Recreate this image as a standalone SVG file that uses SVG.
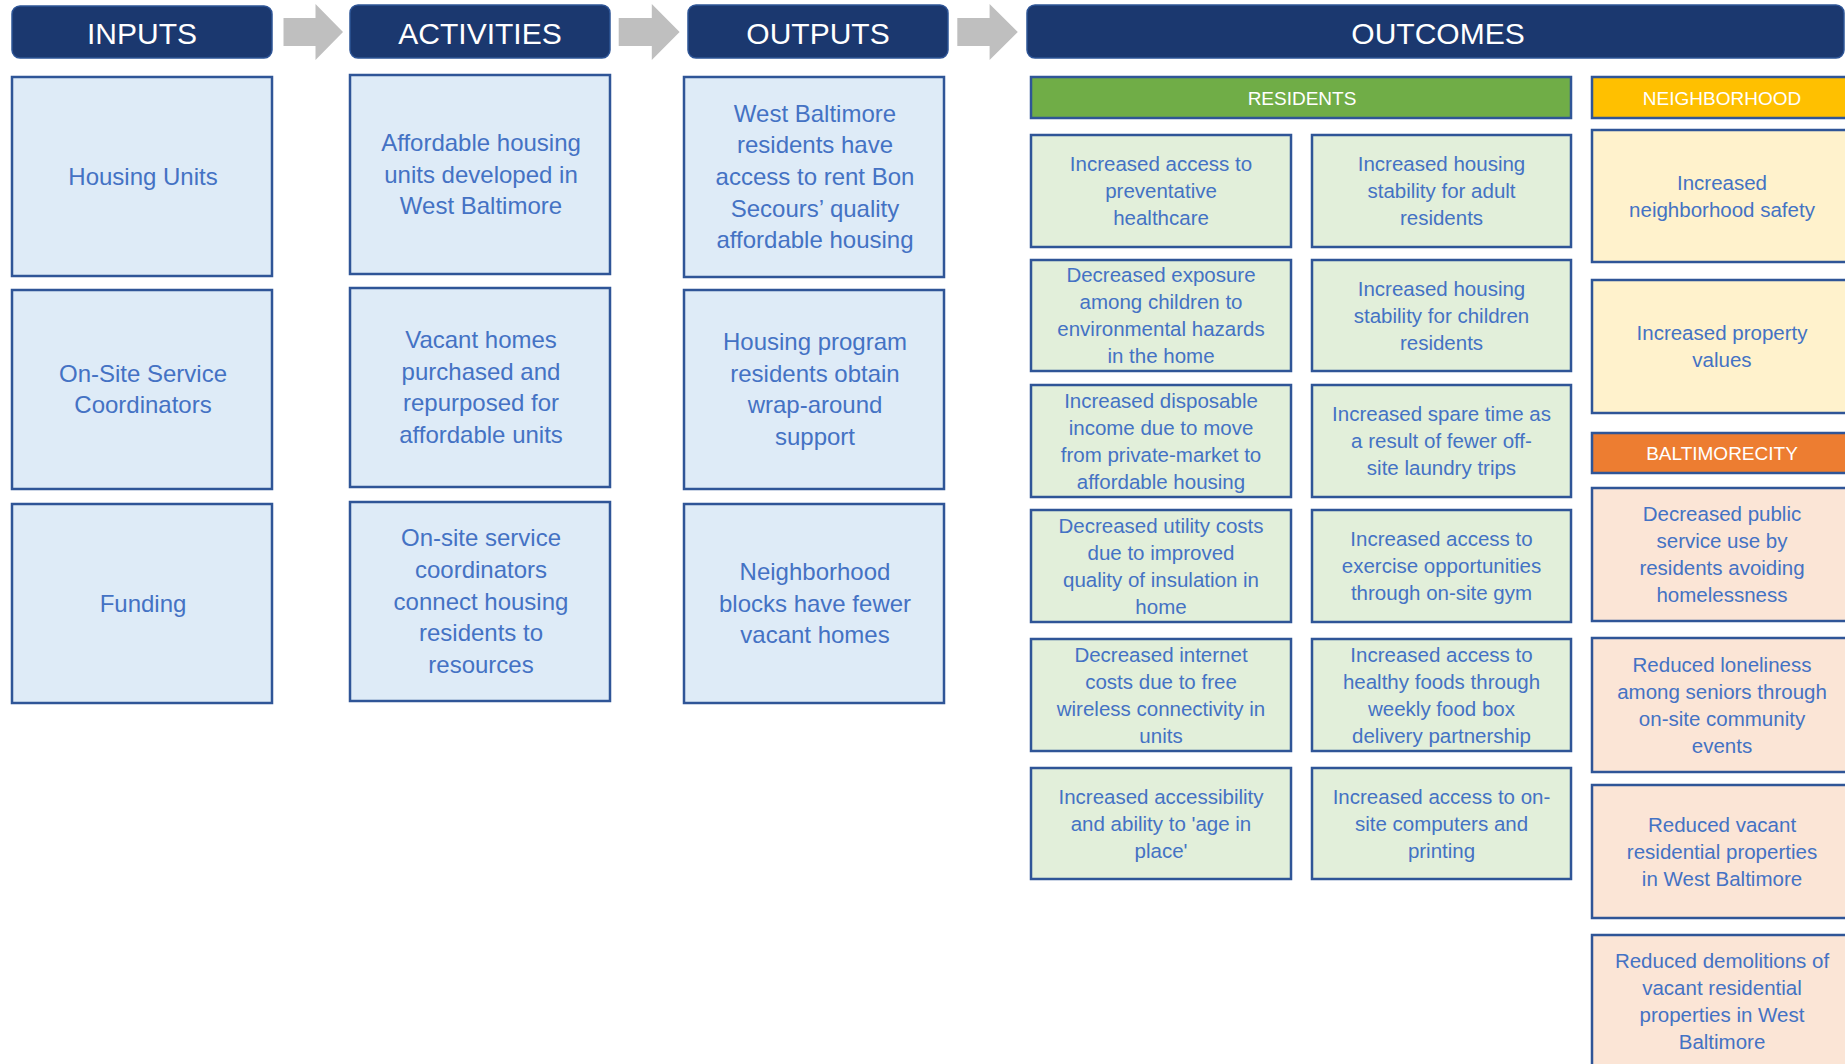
<svg xmlns="http://www.w3.org/2000/svg" width="1845" height="1064" viewBox="0 0 1845 1064">
  <style>
    .hdr { fill: #1B386F; stroke: #2E5597; stroke-width: 1.5; }
    .hdr-t { font-family: "Liberation Sans", Arial, sans-serif; font-size: 30px; fill: #FFFFFF; text-anchor: middle; }
    .box { fill: #DEEBF7; stroke: #2F5597; stroke-width: 2.5; }
    .gbox { fill: #E2EFDA; stroke: #2F5597; stroke-width: 2.5; }
    .ybox { fill: #FFF2CC; stroke: #2F5597; stroke-width: 2.5; }
    .pbox { fill: #FBE5D6; stroke: #2F5597; stroke-width: 2.5; }
    .sub-g { fill: #70AD47; stroke: #2F5597; stroke-width: 2.5; }
    .sub-y { fill: #FFC000; stroke: #2F5597; stroke-width: 2.5; }
    .sub-o { fill: #ED7D31; stroke: #2F5597; stroke-width: 2.5; }
    .sub-t { font-family: "Liberation Sans", Arial, sans-serif; font-size: 19px; fill: #FFFFFF; text-anchor: middle; }
    .t { font-family: "Liberation Sans", Arial, sans-serif; font-size: 24px; fill: #4472C4; text-anchor: middle; }
    .s { font-family: "Liberation Sans", Arial, sans-serif; font-size: 20.5px; fill: #4472C4; text-anchor: middle; }
    .arrow { fill: #BFBFBF; }
  </style>

  <rect width="1845" height="1064" fill="#FFFFFF"/>

  <!-- flow arrows between the column headers -->
  <g id="connectors">
    <polygon class="arrow" points="283.5,18 315.5,18 315.5,4 343,32 315.5,60 315.5,46 283.5,46"/>
    <polygon class="arrow" points="618.7,18 651.8,18 651.8,4 679.6,32 651.8,60 651.8,46 618.7,46"/>
    <polygon class="arrow" points="957.3,18 989.6,18 989.6,4 1017.8,32 989.6,60 989.6,46 957.3,46"/>
  </g>

  <!-- column headers -->
  <g id="hdr-inputs">
    <rect class="hdr" x="12" y="6" width="260" height="52" rx="8"/>
    <text class="hdr-t" x="142" y="44">INPUTS</text>
  </g>
  <g id="hdr-activities">
    <rect class="hdr" x="350" y="5" width="260" height="53" rx="8"/>
    <text class="hdr-t" x="480" y="44">ACTIVITIES</text>
  </g>
  <g id="hdr-outputs">
    <rect class="hdr" x="688" y="5" width="260" height="53" rx="8"/>
    <text class="hdr-t" x="818" y="44">OUTPUTS</text>
  </g>
  <g id="hdr-outcomes">
    <rect class="hdr" x="1027" y="5" width="817" height="53" rx="8"/>
    <text class="hdr-t" x="1438" y="44">OUTCOMES</text>
  </g>

  <!-- inputs -->
  <g id="in-housing-units">
    <rect class="box" x="12" y="77" width="260" height="199"/>
    <text class="t" x="143" y="184.5">Housing Units</text>
  </g>
  <g id="in-coordinators">
    <rect class="box" x="12" y="290" width="260" height="199"/>
    <text class="t" x="143" y="381.7">On-Site Service</text>
    <text class="t" x="143" y="413.3">Coordinators</text>
  </g>
  <g id="in-funding">
    <rect class="box" x="12" y="504" width="260" height="199"/>
    <text class="t" x="143" y="611.5">Funding</text>
  </g>

  <!-- activities -->
  <g id="act-affordable">
    <rect class="box" x="350" y="75" width="260" height="199"/>
    <text class="t" x="481" y="150.8">Affordable housing</text>
    <text class="t" x="481" y="182.5">units developed in</text>
    <text class="t" x="481" y="214.2">West Baltimore</text>
  </g>
  <g id="act-vacant">
    <rect class="box" x="350" y="288" width="260" height="199"/>
    <text class="t" x="481" y="348">Vacant homes</text>
    <text class="t" x="481" y="379.7">purchased and</text>
    <text class="t" x="481" y="411.4">repurposed for</text>
    <text class="t" x="481" y="443.1">affordable units</text>
  </g>
  <g id="act-coordinators">
    <rect class="box" x="350" y="502" width="260" height="199"/>
    <text class="t" x="481" y="546.1">On-site service</text>
    <text class="t" x="481" y="577.8">coordinators</text>
    <text class="t" x="481" y="609.5">connect housing</text>
    <text class="t" x="481" y="641.2">residents to</text>
    <text class="t" x="481" y="672.9">resources</text>
  </g>

  <!-- outputs -->
  <g id="out-access">
    <rect class="box" x="684" y="77" width="260" height="200"/>
    <text class="t" x="815" y="121.6">West Baltimore</text>
    <text class="t" x="815" y="153.3">residents have</text>
    <text class="t" x="815" y="185">access to rent Bon</text>
    <text class="t" x="815" y="216.7">Secours’ quality</text>
    <text class="t" x="815" y="248.4">affordable housing</text>
  </g>
  <g id="out-support">
    <rect class="box" x="684" y="290" width="260" height="199"/>
    <text class="t" x="815" y="350">Housing program</text>
    <text class="t" x="815" y="381.7">residents obtain</text>
    <text class="t" x="815" y="413.4">wrap-around</text>
    <text class="t" x="815" y="445.1">support</text>
  </g>
  <g id="out-blocks">
    <rect class="box" x="684" y="504" width="260" height="199"/>
    <text class="t" x="815" y="579.8">Neighborhood</text>
    <text class="t" x="815" y="611.5">blocks have fewer</text>
    <text class="t" x="815" y="643.2">vacant homes</text>
  </g>

  <!-- outcomes: residents -->
  <g id="sub-residents">
    <rect class="sub-g" x="1031" y="77" width="540" height="41"/>
    <text class="sub-t" x="1302" y="105">RESIDENTS</text>
  </g>
  <g id="res-healthcare">
    <rect class="gbox" x="1031" y="135" width="260" height="112"/>
    <text class="s" x="1161" y="171">Increased access to</text>
    <text class="s" x="1161" y="198">preventative</text>
    <text class="s" x="1161" y="225">healthcare</text>
  </g>
  <g id="res-adult-stability">
    <rect class="gbox" x="1312" y="135" width="259" height="112"/>
    <text class="s" x="1441.5" y="171">Increased housing</text>
    <text class="s" x="1441.5" y="198">stability for adult</text>
    <text class="s" x="1441.5" y="225">residents</text>
  </g>
  <g id="res-hazards">
    <rect class="gbox" x="1031" y="260" width="260" height="111"/>
    <text class="s" x="1161" y="282">Decreased exposure</text>
    <text class="s" x="1161" y="309">among children to</text>
    <text class="s" x="1161" y="336">environmental hazards</text>
    <text class="s" x="1161" y="363">in the home</text>
  </g>
  <g id="res-child-stability">
    <rect class="gbox" x="1312" y="260" width="259" height="111"/>
    <text class="s" x="1441.5" y="295.5">Increased housing</text>
    <text class="s" x="1441.5" y="322.5">stability for children</text>
    <text class="s" x="1441.5" y="349.5">residents</text>
  </g>
  <g id="res-income">
    <rect class="gbox" x="1031" y="385" width="260" height="112"/>
    <text class="s" x="1161" y="407.5">Increased disposable</text>
    <text class="s" x="1161" y="434.5">income due to move</text>
    <text class="s" x="1161" y="461.5">from private-market to</text>
    <text class="s" x="1161" y="488.5">affordable housing</text>
  </g>
  <g id="res-spare-time">
    <rect class="gbox" x="1312" y="385" width="259" height="112"/>
    <text class="s" x="1441.5" y="421">Increased spare time as</text>
    <text class="s" x="1441.5" y="448">a result of fewer off-</text>
    <text class="s" x="1441.5" y="475">site laundry trips</text>
  </g>
  <g id="res-utility">
    <rect class="gbox" x="1031" y="510" width="260" height="112"/>
    <text class="s" x="1161" y="532.5">Decreased utility costs</text>
    <text class="s" x="1161" y="559.5">due to improved</text>
    <text class="s" x="1161" y="586.5">quality of insulation in</text>
    <text class="s" x="1161" y="613.5">home</text>
  </g>
  <g id="res-exercise">
    <rect class="gbox" x="1312" y="510" width="259" height="112"/>
    <text class="s" x="1441.5" y="546">Increased access to</text>
    <text class="s" x="1441.5" y="573">exercise opportunities</text>
    <text class="s" x="1441.5" y="600">through on-site gym</text>
  </g>
  <g id="res-internet">
    <rect class="gbox" x="1031" y="639" width="260" height="112"/>
    <text class="s" x="1161" y="661.5">Decreased internet</text>
    <text class="s" x="1161" y="688.5">costs due to free</text>
    <text class="s" x="1161" y="715.5">wireless connectivity in</text>
    <text class="s" x="1161" y="742.5">units</text>
  </g>
  <g id="res-foods">
    <rect class="gbox" x="1312" y="639" width="259" height="112"/>
    <text class="s" x="1441.5" y="661.5">Increased access to</text>
    <text class="s" x="1441.5" y="688.5">healthy foods through</text>
    <text class="s" x="1441.5" y="715.5">weekly food box</text>
    <text class="s" x="1441.5" y="742.5">delivery partnership</text>
  </g>
  <g id="res-age-in-place">
    <rect class="gbox" x="1031" y="768" width="260" height="111"/>
    <text class="s" x="1161" y="803.5">Increased accessibility</text>
    <text class="s" x="1161" y="830.5">and ability to 'age in</text>
    <text class="s" x="1161" y="857.5">place'</text>
  </g>
  <g id="res-computers">
    <rect class="gbox" x="1312" y="768" width="259" height="111"/>
    <text class="s" x="1441.5" y="803.5">Increased access to on-</text>
    <text class="s" x="1441.5" y="830.5">site computers and</text>
    <text class="s" x="1441.5" y="857.5">printing</text>
  </g>

  <!-- outcomes: neighborhood -->
  <g id="sub-neighborhood">
    <rect class="sub-y" x="1592" y="77" width="260" height="41"/>
    <text class="sub-t" x="1722" y="105">NEIGHBORHOOD</text>
  </g>
  <g id="nb-safety">
    <rect class="ybox" x="1592" y="130" width="260" height="132"/>
    <text class="s" x="1722" y="189.5">Increased</text>
    <text class="s" x="1722" y="216.5">neighborhood safety</text>
  </g>
  <g id="nb-property">
    <rect class="ybox" x="1592" y="280" width="260" height="133"/>
    <text class="s" x="1722" y="340">Increased property</text>
    <text class="s" x="1722" y="367">values</text>
  </g>

  <!-- outcomes: Baltimore City -->
  <g id="sub-city">
    <rect class="sub-o" x="1592" y="433" width="260" height="40"/>
    <text class="sub-t" x="1722" y="460">BALTIMORECITY</text>
  </g>
  <g id="city-public-service">
    <rect class="pbox" x="1592" y="488" width="260" height="133"/>
    <text class="s" x="1722" y="521">Decreased public</text>
    <text class="s" x="1722" y="548">service use by</text>
    <text class="s" x="1722" y="575">residents avoiding</text>
    <text class="s" x="1722" y="602">homelessness</text>
  </g>
  <g id="city-loneliness">
    <rect class="pbox" x="1592" y="638" width="260" height="134"/>
    <text class="s" x="1722" y="671.5">Reduced loneliness</text>
    <text class="s" x="1722" y="698.5">among seniors through</text>
    <text class="s" x="1722" y="725.5">on-site community</text>
    <text class="s" x="1722" y="752.5">events</text>
  </g>
  <g id="city-vacant">
    <rect class="pbox" x="1592" y="785" width="260" height="133"/>
    <text class="s" x="1722" y="831.5">Reduced vacant</text>
    <text class="s" x="1722" y="858.5">residential properties</text>
    <text class="s" x="1722" y="885.5">in West Baltimore</text>
  </g>
  <g id="city-demolitions">
    <rect class="pbox" x="1592" y="935" width="260" height="133"/>
    <text class="s" x="1722" y="968">Reduced demolitions of</text>
    <text class="s" x="1722" y="995">vacant residential</text>
    <text class="s" x="1722" y="1022">properties in West</text>
    <text class="s" x="1722" y="1049">Baltimore</text>
  </g>
</svg>
